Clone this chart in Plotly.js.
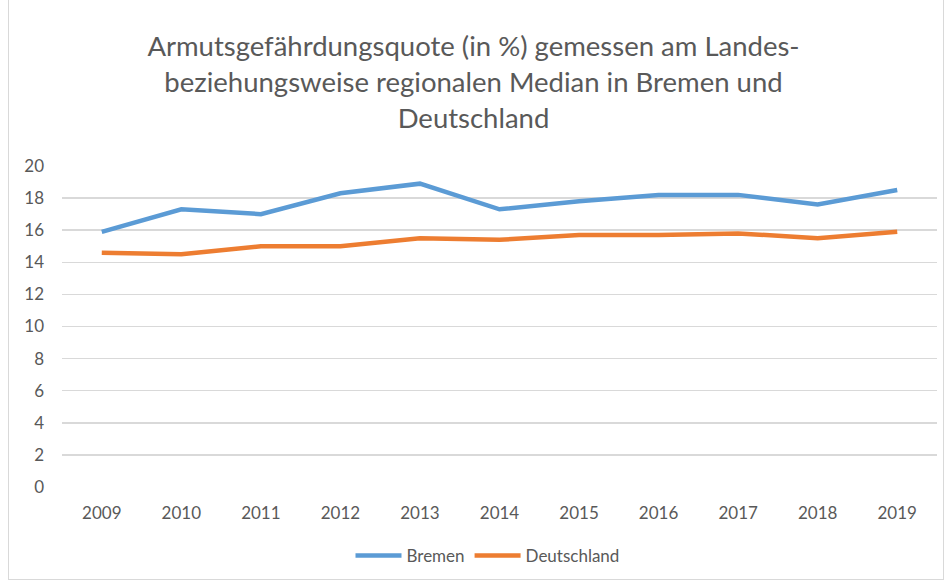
<!DOCTYPE html>
<html>
<head>
<meta charset="utf-8">
<script src="https://cdn.plot.ly/plotly-3.0.1.min.js"></script>
<style>
html,body{margin:0;padding:0;background:#fff;}
#frame{position:absolute;left:8px;top:-2px;width:936px;height:582px;border:1px solid #D9D9D9;box-sizing:border-box;}
#chart{position:absolute;left:0;top:0;width:947px;height:583px;}
</style>
</head>
<body>
<div id="frame"></div>
<div id="chart"></div>
<script>
const years = ['2009','2010','2011','2012','2013','2014','2015','2016','2017','2018','2019'];
const bremen = [15.9, 17.3, 17.0, 18.3, 18.9, 17.3, 17.8, 18.2, 18.2, 17.6, 18.5];
const deutschland = [14.6, 14.5, 15.0, 15.0, 15.5, 15.4, 15.7, 15.7, 15.8, 15.5, 15.9];
const yTicks = [0, 2, 4, 6, 8, 10, 12, 14, 16, 18, 20];

const font = "Lato, 'Open Sans', sans-serif";
const traces = [
  {x: years, y: bremen, name: 'Bremen', type: 'scatter', mode: 'lines',
   line: {color: '#5B9BD5', width: 4.5}},
  {x: years, y: deutschland, name: 'Deutschland', type: 'scatter', mode: 'lines',
   line: {color: '#ED7D31', width: 4.5}}
];
const layout = {
  width: 947, height: 583,
  paper_bgcolor: 'rgba(0,0,0,0)', plot_bgcolor: 'rgba(0,0,0,0)',
  margin: {l: 62, r: 10, t: 166, b: 95},
  font: {family: font, color: '#595959', size: 17},
  title: {
    text: 'Armutsgefährdungsquote (in %) gemessen am Landes-<br>beziehungsweise regionalen Median in Bremen und<br>Deutschland',
    font: {family: font, size: 27.5, color: '#595959'},
    x: 0.5, xanchor: 'center', yref: 'container', y: 1 - 56/583, yanchor: 'top'
  },
  xaxis: {
    type: 'category', range: [-0.5, 10.5], showgrid: false, zeroline: false,
    showline: false, ticks: '', ticklabelstandoff: 14,
    tickfont: {size: 17, color: '#595959'}, fixedrange: true
  },
  yaxis: {
    range: [0, 20], tickvals: yTicks, ticktext: yTicks.map(String),
    showgrid: true, gridcolor: '#D9D9D9', gridwidth: 1.5, zeroline: false,
    showline: false, ticks: '', ticklabelstandoff: 17,
    tickfont: {size: 17, color: '#595959'}, fixedrange: true
  },
  showlegend: true,
  legend: {orientation: 'h', x: 0.5 - 12/875, xanchor: 'center', y: -68/322, yanchor: 'middle',
    itemwidth: 46, font: {size: 17, color: '#595959'}, bgcolor: 'rgba(0,0,0,0)'}
};
Plotly.newPlot('chart', traces, layout, {displayModeBar: false, staticPlot: true});
</script>
</body>
</html>
